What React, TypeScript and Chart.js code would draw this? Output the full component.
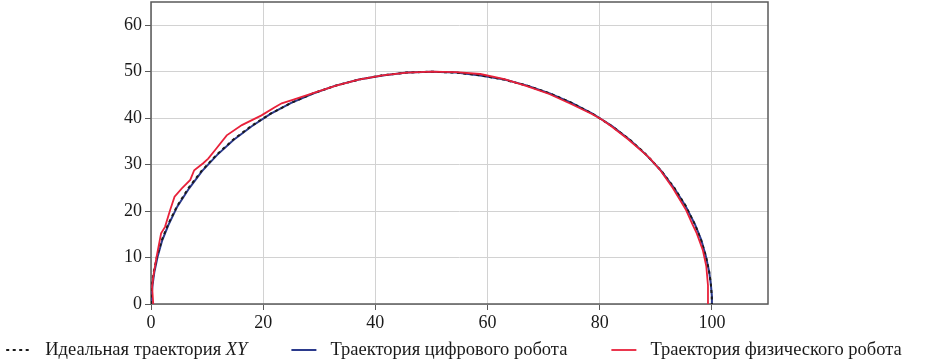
import React, { useEffect, useRef } from "react";
import { Chart, registerables } from "chart.js";

Chart.register(...registerables);

// Ideal semicircle trajectory
const idealX = [0, 0.03, 0.19, 0.49, 1.09, 1.94, 3.02, 4.68, 6.7, 9.04, 11.7, 14.64, 17.86, 21.32, 25, 28.87, 32.9, 37.06, 41.32, 45.64, 50, 54.36, 58.68, 62.94, 67.1, 71.13, 75, 78.68, 82.14, 85.36, 88.3, 90.96, 93.3, 95.32, 96.98, 98.06, 98.91, 99.51, 99.81, 99.97, 100];
const idealY = [0, 1.74, 4.36, 6.96, 10.4, 13.78, 17.1, 21.13, 25, 28.68, 32.14, 35.36, 38.3, 40.96, 43.3, 45.32, 46.98, 48.3, 49.24, 49.81, 50, 49.81, 49.24, 48.3, 46.98, 45.32, 43.3, 40.96, 38.3, 35.36, 32.14, 28.68, 25, 21.13, 17.1, 13.78, 10.4, 6.96, 4.36, 1.74, 0];

// Digital robot trajectory
const digitalX = [0.1, 0.1, 0.3, 0.6, 1.2, 2.0, 3.1, 4.7, 6.8, 9.1, 11.8, 14.7, 17.9, 21.3, 25.0, 28.9, 32.9, 37.1, 41.3, 45.6, 50.0, 54.4, 58.7, 63.0, 67.1, 71.1, 75.0, 78.7, 82.2, 85.4, 88.3, 91.0, 93.3, 95.3, 97.0, 98.1, 98.9, 99.5, 99.8, 100.0, 100.0];
const digitalY = [0, 1.7, 4.3, 6.9, 10.3, 13.7, 17.0, 21.0, 24.9, 28.6, 32.1, 35.3, 38.2, 40.9, 43.3, 45.3, 47.0, 48.3, 49.2, 49.8, 50.0, 49.8, 49.2, 48.3, 47.0, 45.3, 43.3, 41.0, 38.3, 35.3, 32.1, 28.6, 24.9, 21.1, 17.1, 13.8, 10.4, 7.0, 4.4, 1.7, 0];

// Physical robot trajectory
const physicalX = [0.4, 0.2, 0.4, 1.0, 1.8, 2.5, 3.4, 4.2, 5.5, 7.0, 7.7, 9.3, 10.2, 11.4, 13.5, 16.2, 19.7, 22.0, 23.3, 25.4, 28.9, 33.0, 37.0, 41.3, 45.6, 50.0, 54.4, 58.7, 63.0, 67.0, 71.0, 75.0, 78.6, 80.5, 82.0, 85.0, 87.5, 88.9, 90.8, 93.0, 95.4, 96.6, 97.3, 98.4, 99.0, 99.3, 99.3];
const physicalY = [0, 3.7, 5.9, 10.2, 15.2, 16.6, 20.2, 23.1, 24.9, 26.7, 28.8, 30.3, 31.3, 33.1, 36.3, 38.5, 40.6, 42.3, 43.2, 44.0, 45.4, 47.0, 48.3, 49.2, 49.8, 50.0, 49.9, 49.5, 48.4, 46.9, 45.2, 43.0, 40.9, 39.6, 38.3, 35.5, 32.9, 31.4, 28.8, 25.0, 20.2, 17.0, 15.2, 11.5, 8.1, 4.0, 0];

const seriesLabels = ["Идеальная траектория XY", "Траектория цифрового робота", "Траектория физического робота"];
const xTicks = [0, 20, 40, 60, 80, 100];
const yTicks = [0, 10, 20, 30, 40, 50, 60];

const toPts = (xs: number[], ys: number[]) => xs.map((x, i) => ({ x, y: ys[i] }));

const FONT = '"Liberation Serif", "Times New Roman", serif';

const framePlugin = {
  id: "frame",
  beforeDatasetsDraw(chart: any) {
    const { ctx, chartArea: a } = chart;
    ctx.save();
    ctx.strokeStyle = "#5a5a5a";
    ctx.lineWidth = 1.5;
    ctx.strokeRect(a.left, a.top, a.right - a.left, a.bottom - a.top);
    ctx.restore();
  },
};

const legendPlugin = {
  id: "customLegend",
  afterDraw(chart: any) {
    const ctx = chart.ctx;
    const size = 18.5;
    const fontN = `${size}px ${FONT}`;
    const fontI = `italic ${size}px ${FONT}`;
    const lineW = 25;
    const gap1 = 14;
    const gap2 = 44;
    const cy = 350;
    const centerX = 454;
    const ds = chart.data.datasets;
    const parts = ds.map((d: any) => {
      const label: string = d.label;
      if (d.italicTail) {
        const k = label.lastIndexOf(" ");
        return { plain: label.slice(0, k + 1), ital: label.slice(k + 1) };
      }
      return { plain: label, ital: "" };
    });
    const widths = parts.map((p: any) => {
      ctx.font = fontN;
      let w = ctx.measureText(p.plain).width;
      ctx.font = fontI;
      w += p.ital ? ctx.measureText(p.ital).width : 0;
      return w;
    });
    const total = widths.reduce((s: number, w: number) => s + lineW + gap1 + w, 0) + gap2 * (ds.length - 1);
    let x = centerX - total / 2;
    ctx.save();
    ds.forEach((d: any, i: number) => {
      ctx.strokeStyle = d.borderColor;
      ctx.lineWidth = d.borderWidth;
      ctx.setLineDash(d.borderDash || []);
      ctx.beginPath();
      ctx.moveTo(x, cy);
      ctx.lineTo(x + lineW, cy);
      ctx.stroke();
      ctx.setLineDash([]);
      let tx = x + lineW + gap1;
      ctx.fillStyle = "#1a1a1a";
      ctx.textBaseline = "middle";
      ctx.textAlign = "left";
      ctx.font = fontN;
      ctx.fillText(parts[i].plain, tx, cy);
      tx += ctx.measureText(parts[i].plain).width;
      if (parts[i].ital) {
        ctx.font = fontI;
        ctx.fillText(parts[i].ital, tx, cy);
      }
      x += lineW + gap1 + widths[i] + gap2;
    });
    ctx.restore();
  },
};

export default function App() {
  const ref = useRef<HTMLCanvasElement | null>(null);
  useEffect(() => {
    document.body.style.margin = "0";
    if (!ref.current) return;
    const chart = new Chart(ref.current, {
      type: "scatter",
      data: {
        datasets: [
          {
            label: seriesLabels[0],
            italicTail: true,
            data: toPts(idealX, idealY),
            showLine: true,
            borderColor: "#1a1a1a",
            borderWidth: 2,
            borderDash: [3, 3.5],
            pointRadius: 0,
            order: 1,
          } as any,
          {
            label: seriesLabels[1],
            data: toPts(digitalX, digitalY),
            showLine: true,
            borderColor: "#2b3a8c",
            borderWidth: 2,
            pointRadius: 0,
            order: 2,
          },
          {
            label: seriesLabels[2],
            data: toPts(physicalX, physicalY),
            showLine: true,
            borderColor: "#e8213a",
            borderWidth: 1.8,
            pointRadius: 0,
            order: 0,
          },
        ],
      },
      options: {
        animation: false,
        responsive: false,
        maintainAspectRatio: false,
        layout: { padding: { left: 0, right: 180, top: 2, bottom: 29 } },
        plugins: { legend: { display: false }, tooltip: { enabled: false } },
        scales: {
          x: {
            type: "linear",
            min: 0,
            max: 110,
            afterBuildTicks: (s: any) => { s.ticks = xTicks.map((v) => ({ value: v })); },
            afterFit: (s: any) => { s.height = 30; s.paddingLeft = 0; s.paddingRight = 0; },
            ticks: { color: "#1a1a1a", font: { family: FONT, size: 18 }, padding: 2, maxRotation: 0 },
            grid: { color: "#d2d2d2", tickColor: "#5a5a5a", tickLength: 6, lineWidth: 1 },
            border: { display: false },
          },
          y: {
            type: "linear",
            min: 0,
            max: 65,
            afterBuildTicks: (s: any) => { s.ticks = yTicks.map((v) => ({ value: v })); },
            afterFit: (s: any) => { s.width = 151; s.paddingTop = 0; s.paddingBottom = 0; },
            ticks: { color: "#1a1a1a", font: { family: FONT, size: 18 }, padding: 3 },
            grid: { color: "#d2d2d2", tickColor: "#5a5a5a", tickLength: 6, lineWidth: 1 },
            border: { display: false },
          },
        },
      },
      plugins: [framePlugin, legendPlugin],
    });
    return () => chart.destroy();
  }, []);
  return (
    <div style={{ position: "absolute", left: 0, top: 0, width: 948, height: 363 }}>
      <canvas ref={ref} width={948} height={363} style={{ width: 948, height: 363, display: "block" }} />
    </div>
  );
}
